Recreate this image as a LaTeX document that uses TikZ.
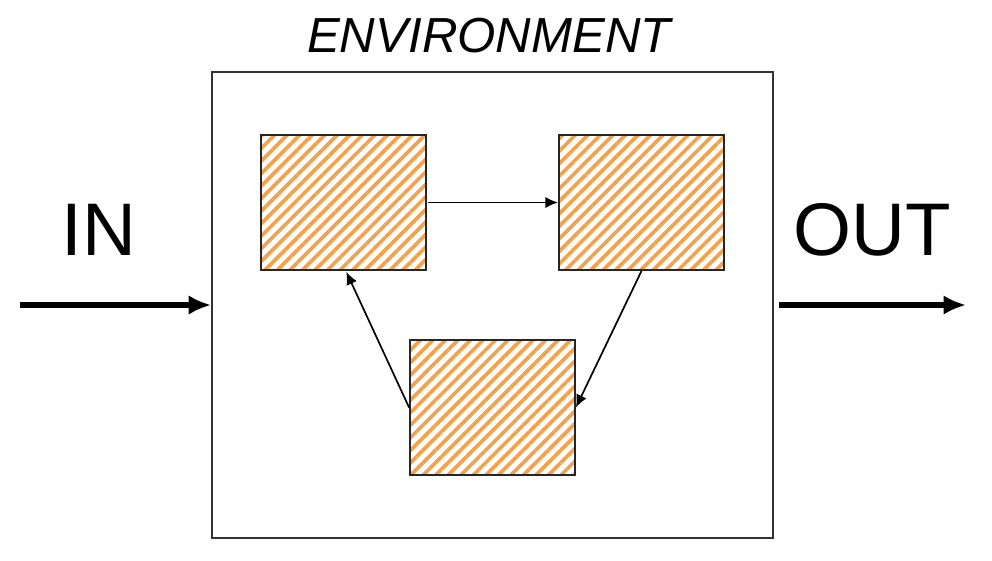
\documentclass[tikz,border=0pt]{standalone}
\usepackage{fontspec}
\setmainfont{Liberation Sans}
\usetikzlibrary{patterns.meta,arrows.meta}
\definecolor{hatch}{HTML}{F5A04A}
\tikzset{
  hbox/.style={draw=black!85,line width=1.3pt,minimum width=165*0.025cm,minimum height=135*0.025cm,
    pattern={Lines[angle=45,distance=6.3pt,line width=2.6pt]},pattern color=hatch},
  thin arrow/.style={-{Latex[length=9pt,width=8pt]},line width=1.2pt},
  big arrow/.style={-{Latex[length=16pt,width=14pt]},line width=3.8pt},
  bigtext/.style={font=\fontsize{53}{56}\selectfont}
}
\begin{document}
\begin{tikzpicture}[x=0.025cm,y=-0.025cm]
\useasboundingbox (0,0) rectangle (992,560);
\node[draw=black!80,line width=1.3pt,minimum width=561*0.025cm,minimum height=466*0.025cm] (env) at (492.5,305) {};
\node[font=\fontsize{35}{38}\selectfont\itshape] (envt) at (489,36) {ENVIRONMENT};
\node[hbox] (a) at (343.5,202.5) {};
\node[hbox] (b) at (641.5,202.5) {};
\node[hbox] (c) at (492.5,407.5) {};
\draw[thin arrow] (a.east) -- (b.west);
\draw[thin arrow] (b.south) -- (c.east);
\draw[thin arrow] (c.west) -- ([xshift=2]a.south);
\coordinate (in0) at (20,305);
\coordinate (out1) at (966,305);
\draw[big arrow] (in0) -- (env.west);
\draw[big arrow] (env.east) ++(5,0) coordinate (out0) -- (out1);
\node[bigtext] (int) at (99,230) {IN};
\node[bigtext] (outt) at (872,230) {OUT};
\end{tikzpicture}
\end{document}
